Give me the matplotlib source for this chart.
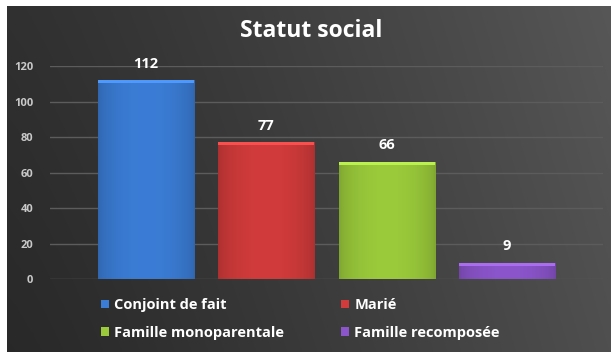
import numpy as np
import matplotlib
matplotlib.use('Agg')
import matplotlib.pyplot as plt
from matplotlib.patches import Rectangle
from matplotlib.colors import to_rgb

plt.rcParams['font.family'] = ['Open Sans', 'DejaVu Sans']

categories = ['Conjoint de fait', 'Marié', 'Famille monoparentale', 'Famille recomposée']
values = [112, 77, 66, 9]
colors = ['#3b7dd6', '#d23b3b', '#9bcb3b', '#8c55cc']
yticks = [0, 20, 40, 60, 80, 100, 120]

W, H = 611, 358
fig = plt.figure(figsize=(W / 100, H / 100), dpi=100, facecolor='white')

# dark panel with a left-to-right gradient
bg = fig.add_axes([7 / W, 6 / H, 604 / W, 346 / H])
bg.axis('off')
gx = np.linspace(0, 1, 300)[None, :]
gy = np.linspace(0, 1, 100)[:, None]
shade = 0.16 + 0.15 * gx ** 1.2 + 0.03 * gy
bg.imshow(np.dstack([shade, shade, shade]), extent=[0, 1, 0, 1], aspect='auto',
          origin='lower', interpolation='bicubic')
bg.set_xlim(0, 1); bg.set_ylim(0, 1)

ax = fig.add_axes([50 / W, 79 / H, 553 / W, 213 / H])
ax.patch.set_alpha(0)
x = np.arange(len(categories))
bars = ax.bar(x, values, width=0.8, color=colors, zorder=3)

# bevel shading inside each bar
for b, c in zip(bars, colors):
    rgb = np.array(to_rgb(c))
    t = np.linspace(0, 1, 60)
    prof = 0.82 + 0.18 * np.sin(np.pi * t) ** 0.6
    img = np.clip(rgb[None, None, :] * prof[None, :, None], 0, 1)
    x0, y0, bw, bh = b.get_x(), b.get_y(), b.get_width(), b.get_height()
    im = ax.imshow(img, extent=[x0, x0 + bw, y0, y0 + bh], aspect='auto', zorder=4,
                   interpolation='bicubic')
    im.set_clip_path(b)
    lite = np.clip(rgb * 1.12 + 0.05, 0, 1)
    ax.add_patch(Rectangle((x0, y0 + bh - 1.5), bw, 1.5, fc=lite, ec='none', zorder=5))
    ax.annotate(f'{b.get_height():g}', (x0 + bw / 2, y0 + bh), xytext=(0, 12),
                textcoords='offset points', ha='center', va='center', color='white',
                fontsize=10.5, fontweight='bold', zorder=6, annotation_clip=False)
ax.set_xlim(-0.8, 3.8)
ax.set_ylim(0, 120)

ax.set_yticks(yticks)
ax.grid(axis='y', color='#5c5c5c', lw=1.0, zorder=1)
ax.tick_params(axis='y', length=0, pad=12, labelcolor='#c9c9c9', labelsize=8)
ax.tick_params(axis='x', bottom=False, labelbottom=False)
for lab in ax.get_yticklabels():
    lab.set_fontweight('bold')
for s in ax.spines.values():
    s.set_visible(False)

fig.text(311 / W, 1 - 31 / H, 'Statut social', ha='center', va='center', color='white',
         fontsize=16.5, fontweight='bold')

order = [0, 2, 1, 3]
handles = [Rectangle((0, 0), 1, 1, fc=colors[i], ec='none') for i in order]
leg = fig.legend(handles, [categories[i] for i in order], ncol=2, loc='upper left',
                 bbox_to_anchor=(88 / W, 1 - 285 / H), frameon=False, handlelength=0.55,
                 handleheight=0.55, handletextpad=0.35, columnspacing=3.9, labelspacing=0.95,
                 prop={'weight': 'bold', 'size': 10.5})
for t in leg.get_texts():
    t.set_color('white')

fig.savefig('out.png', dpi=100, facecolor='white')
